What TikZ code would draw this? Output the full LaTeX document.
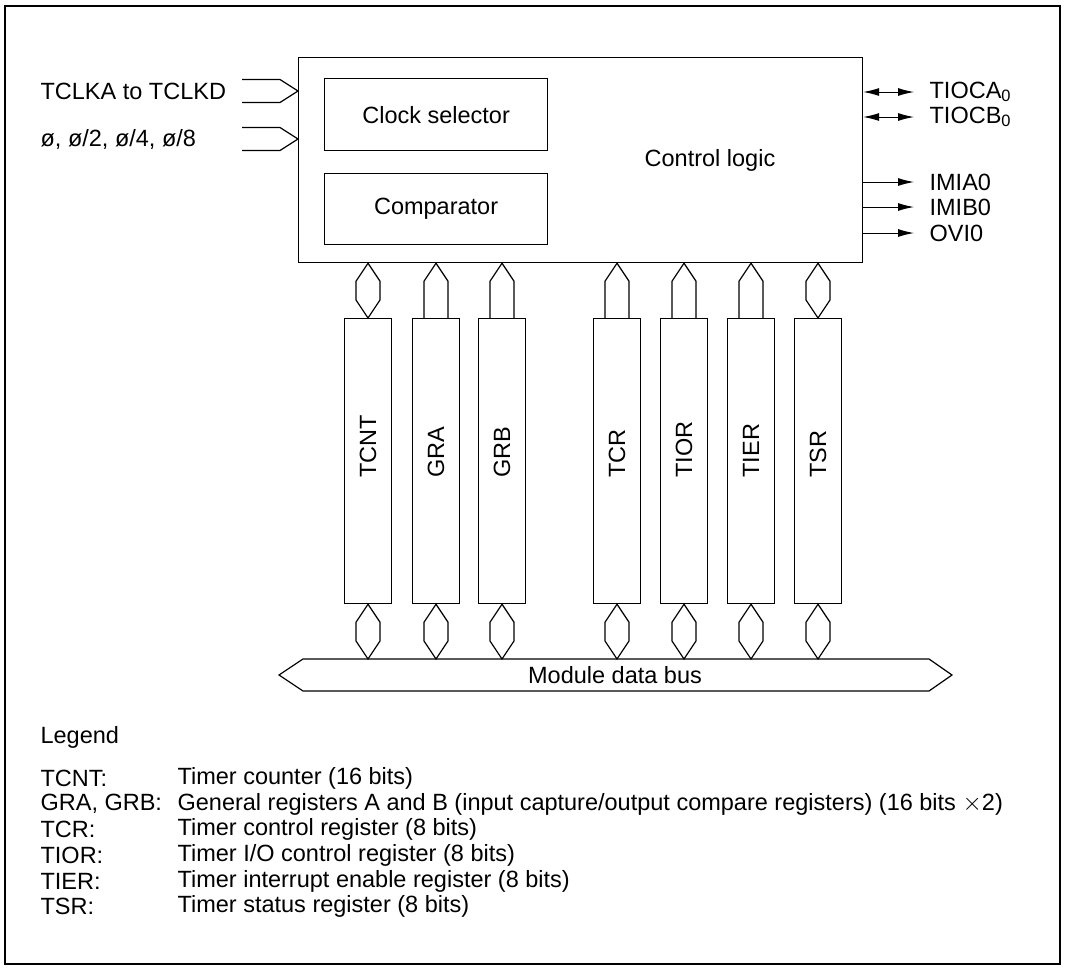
\documentclass[tikz,border=0pt]{standalone}
\usepackage{fontspec}
\setmainfont{Liberation Sans}
\usetikzlibrary{arrows.meta,positioning,calc}

\tikzset{
  blk/.style={draw, line width=1.2pt, inner sep=0pt},
  regbox/.style={draw, line width=1.2pt, minimum width=47pt, minimum height=285pt, inner sep=0pt, anchor=north},
  reglbl/.style={rotate=90, anchor=west, inner sep=0pt},
  sig/.style={line width=1pt, -{Latex[length=16pt,width=8pt]}},
  bisig/.style={line width=1pt, {Latex[length=16pt,width=8pt]}-{Latex[length=16pt,width=8pt]}},
  txt/.style={anchor=west, inner sep=0pt}
}

% bidirectional link: top point, bottom point
\newcommand{\hexlink}[2]{\draw (#1) -- ($(#1)+(12,18)$) -- ($(#2)+(12,-18)$) -- (#2) -- ($(#2)+(-12,-18)$) -- ($(#1)+(-12,18)$) -- cycle;}
% one-way link pointing up
\newcommand{\uplink}[2]{\draw ($(#2)+(-12,0)$) -- ($(#1)+(-12,18)$) -- (#1) -- ($(#1)+(12,18)$) -- ($(#2)+(12,0)$);}

\begin{document}
\begin{tikzpicture}[x=1pt,y=-1pt, line width=1.2pt, font=\fontsize{23.5}{28}\selectfont]
\useasboundingbox (0,0) rectangle (1066,970);
\draw (5,6) rectangle (1060,964);

% control block
\node[blk, minimum width=564pt, minimum height=205pt, anchor=north west] (ctrl) at (298,57) {};
\node[blk, minimum width=223pt, minimum height=72pt, anchor=north west] (clksel) at (324,78) {Clock selector};
\node[blk, minimum width=223pt, minimum height=71pt, anchor=north west] (cmp) at (324,173) {Comparator};
\node (logic) at (710,160) {Control logic};

% inputs
\node[txt] (clkext) at (40,91) {TCLKA to TCLKD};
\node[txt] (clkint) at (40,139) {ø, ø/2, ø/4, ø/8};
\foreach \y/\name in {91/inext, 139/inint}{
  \coordinate (\name) at (ctrl.west |- 0,\y);
  \draw ($(\name)+(-56,-11.5)$) -- ($(\name)+(-18,-11.5)$) -- (\name)
        -- ($(\name)+(-18,11.5)$) -- ($(\name)+(-56,11.5)$);
}

% outputs
\foreach \y/\name/\lbl/\kind in {92/tioca/TIOCA\textsubscript{0}/bisig, 117/tiocb/TIOCB\textsubscript{0}/bisig,
    182/imia/IMIA0/sig, 207/imib/IMIB0/sig, 233/ovi/OVI0/sig}{
  \coordinate (\name-end) at (914,\y);
  \node[txt] (\name) at (929,\y) {\lbl};
  \draw[\kind] (ctrl.east |- \name-end) -- (\name-end);
}

% module data bus
\coordinate (bustop) at (0,659);
\draw (279,675) -- (303,659) -- (929,659) -- (952,675) -- (929,691) -- (303,691) -- cycle;
\node (busname) at (615,675) {Module data bus};

% registers
\foreach \name/\x/\lbl/\kind in {tcnt/368/TCNT/hexlink, gra/436/GRA/uplink, grb/502/GRB/uplink,
    tcr/617/TCR/uplink, tior/684/TIOR/uplink, tier/751/TIER/uplink, tsr/818/TSR/hexlink}{
  \node[regbox] (\name) at (\x,318) {};
  \node[reglbl] (\name-lbl) at (\x,478) {\lbl};
  \coordinate (\name-top) at (\name.north |- ctrl.south);
  \coordinate (\name-bot) at (\name.south |- bustop);
  \csname\kind\endcsname{\name-top}{\name.north}
  \hexlink{\name.south}{\name-bot}
}

% legend
\node[txt] (legend) at (40,737) {Legend};
\foreach \y/\name/\lbl/\desc in {778/l1/{TCNT:}/{Timer counter (16 bits)},
    804/l2/{GRA, GRB:}/{General registers A and B (input capture/output compare registers) (16 bits $\times$2)},
    829/l3/{TCR:}/{Timer control register (8 bits)},
    855/l4/{TIOR:}/{Timer I/O control register (8 bits)},
    881/l5/{TIER:}/{Timer interrupt enable register (8 bits)},
    906/l6/{TSR:}/{Timer status register (8 bits)}}{
  \node[txt] (\name) at (40,\y) {\lbl};
  \node[txt] (\name-d) at (177,\y) {\desc};
}
\end{tikzpicture}
\end{document}
